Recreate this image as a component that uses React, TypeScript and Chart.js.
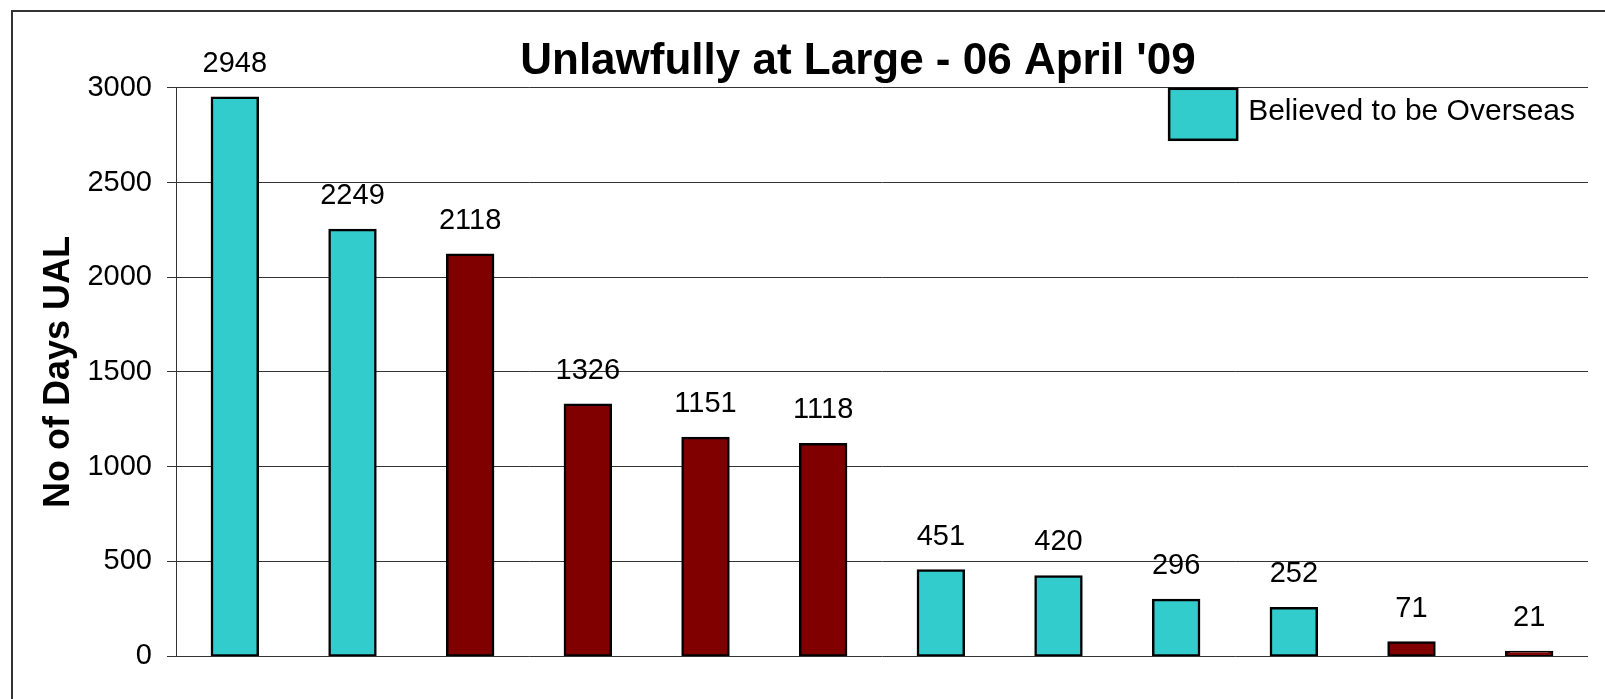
import React, { useEffect, useRef } from "react";
import { Chart, registerables } from "chart.js";

Chart.register(...registerables);

const categories = ["1", "2", "3", "4", "5", "6", "7", "8", "9", "10", "11", "12"];
const daysUAL = [2948, 2249, 2118, 1326, 1151, 1118, 451, 420, 296, 252, 71, 21];
const believedOverseas = [true, true, false, false, false, false, true, true, true, true, false, false];
const yTicks = [0, 500, 1000, 1500, 2000, 2500, 3000];
const titleText = "Unlawfully at Large - 06 April '09";
const yTitleText = "No of Days UAL";
const legendText = "Believed to be Overseas";

const OVERSEAS_COLOR = "#33CCCC";
const OTHER_COLOR = "#800000";
const FONT = "'Liberation Sans', Arial, Helvetica, sans-serif";

const valueLabels = {
  id: "valueLabels",
  afterDatasetsDraw(chart: any) {
    const ctx = chart.ctx;
    const meta = chart.getDatasetMeta(0);
    ctx.save();
    ctx.font = `29px ${FONT}`;
    ctx.fillStyle = "#000";
    ctx.textAlign = "center";
    ctx.textBaseline = "middle";
    meta.data.forEach((el: any, i: number) => {
      ctx.fillText(String(daysUAL[i]), el.x, el.y - 34);
    });
    ctx.restore();
  },
};

const legendBox = {
  id: "legendBox",
  afterDraw(chart: any) {
    const ctx = chart.ctx;
    const area = chart.chartArea;
    ctx.save();
    ctx.font = `30px ${FONT}`;
    const w = ctx.measureText(legendText).width;
    const textX = area.right - 13 - w;
    const boxW = 68;
    const boxH = 51;
    const boxX = textX - 11 - boxW;
    const boxY = area.top + 1;
    ctx.fillStyle = OVERSEAS_COLOR;
    ctx.fillRect(boxX, boxY, boxW, boxH);
    ctx.lineWidth = 2.5;
    ctx.strokeStyle = "#000";
    ctx.strokeRect(boxX, boxY, boxW, boxH);
    ctx.fillStyle = "#000";
    ctx.textAlign = "left";
    ctx.textBaseline = "middle";
    ctx.fillText(legendText, textX, area.top + 24);
    ctx.restore();
  },
};

function UALChart() {
  const ref = useRef<HTMLCanvasElement | null>(null);
  useEffect(() => {
    if (!ref.current) return;
    Chart.defaults.font.family = FONT;
    const chart = new Chart(ref.current, {
      type: "bar",
      data: {
        labels: categories,
        datasets: [
          {
            label: legendText,
            data: daysUAL,
            backgroundColor: believedOverseas.map((o) => (o ? OVERSEAS_COLOR : OTHER_COLOR)),
            borderColor: "#000",
            borderWidth: 2.5,
            borderSkipped: false,
            inflateAmount: 1.25,
            barPercentage: 0.39,
            categoryPercentage: 1,
          },
        ],
      },
      options: {
        responsive: true,
        maintainAspectRatio: false,
        animation: false,
        layout: { padding: { left: 0, right: 0, top: 0, bottom: 43 } },
        plugins: {
          legend: { display: false },
          tooltip: { enabled: false },
          title: {
            display: true,
            text: titleText,
            color: "#000",
            font: { size: 44, weight: "bold", family: FONT },
            padding: { top: 23, bottom: 0 },
          },
        },
        scales: {
          x: { display: false },
          y: {
            min: 0,
            max: 3000,
            afterBuildTicks: (scale: any) => {
              scale.ticks = yTicks.map((v) => ({ value: v }));
            },
            afterFit: (scale: any) => {
              scale.width = 163;
            },
            border: { display: true, color: "#333", width: 1 },
            grid: { color: "#333", lineWidth: 1, tickLength: 9, drawTicks: true },
            ticks: {
              color: "#000",
              font: { size: 29, family: FONT },
              padding: 15,
              callback: (v: any) => String(v),
            },
            title: {
              display: true,
              text: yTitleText,
              color: "#000",
              font: { size: 36, weight: "bold", family: FONT },
              padding: { top: 24, bottom: 7 },
            },
          },
          yRightSpace: {
            position: "right",
            min: 0,
            max: 3000,
            grid: { display: false, drawTicks: false },
            border: { display: false },
            ticks: { display: false },
            afterFit: (scale: any) => {
              scale.width = 115;
            },
          },
        },
      },
      plugins: [valueLabels, legendBox],
    } as any);
    return () => chart.destroy();
  }, []);
  return <canvas ref={ref} />;
}

export default function App() {
  return (
    <div
      style={{
        position: "fixed",
        left: 11,
        top: 10,
        width: 1605 - 11,
        height: 699 - 10,
        borderLeft: "2px solid #333",
        borderTop: "2px solid #333",
        overflow: "hidden",
        boxSizing: "border-box",
        background: "#fff",
      }}
    >
      <div style={{ position: "relative", width: 1690, height: 687 }}>
        <UALChart />
      </div>
    </div>
  );
}
